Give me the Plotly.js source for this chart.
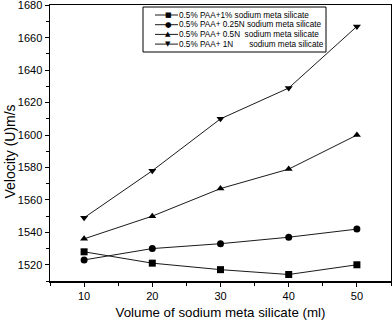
<!DOCTYPE html>
<html>
<head>
<meta charset="utf-8">
<script src="https://cdn.plot.ly/plotly-3.0.1.min.js"></script>
<style>html,body{margin:0;padding:0;background:#fff;}#chart{width:392px;height:321px;}</style>
</head>
<body>
<div id="chart"></div>
<script>
var volume = [10, 20, 30, 40, 50];
var seriesNames = [
  "0.5% PAA+1% sodium meta silicate",
  "0.5% PAA+ 0.25N sodium meta silicate",
  "0.5% PAA+ 0.5N\u00a0 sodium meta silicate",
  "0.5% PAA+ 1N\u00a0\u00a0\u00a0\u00a0\u00a0\u00a0 sodium meta silicate"
];
var pct1 = [1528, 1521, 1517, 1514, 1520];
var n025 = [1523, 1530, 1533, 1537, 1542];
var n05 = [1536, 1550, 1567, 1579, 1600];
var n1 = [1549, 1578, 1610, 1629, 1667];
var xTitle = "Volume of sodium meta silicate (ml)";
var yTitle = "Velocity (U)m/s";

var seriesValues = [pct1, n025, n05, n1];
var symbols = ["square", "circle", "triangle-up", "triangle-down"];
var legendGlyphs = ["\u25A0", "\u25CF", "\u25B2", "\u25BC"];

var traces = seriesValues.map(function (v, i) {
  return {
    x: volume, y: v, name: seriesNames[i],
    type: "scatter", mode: "lines+markers", showlegend: false,
    line: {color: "#1a1a1a", width: 1},
    marker: {symbol: symbols[i], size: 7, color: "#000"}
  };
});

// plot area geometry (px) used to place the hand-built legend
var L = 50, R = 1, T = 5, B = 40, W = 392, H = 321;
var pw = W - L - R, ph = H - T - B;
function px(x) { return (x - L) / pw; }
function py(y) { return (H - B - y) / ph; }

var shapes = [{
  type: "rect", xref: "paper", yref: "paper",
  x0: px(143), x1: px(326), y0: py(52), y1: py(7),
  line: {color: "#000", width: 1}, fillcolor: "#fff", layer: "above"
}];
var annotations = [];
seriesNames.forEach(function (name, i) {
  var yy = 15 + i * 9.7;
  shapes.push({
    type: "line", xref: "paper", yref: "paper",
    x0: px(155), x1: px(178), y0: py(yy), y1: py(yy),
    line: {color: "#1a1a1a", width: 1}, layer: "above"
  });
  annotations.push({
    xref: "paper", yref: "paper", x: px(168), y: py(yy),
    xanchor: "center", yanchor: "middle", showarrow: false,
    text: legendGlyphs[i], font: {family: "DejaVu Sans", size: i === 1 ? 7.5 : 7, color: "#000"}
  });
  annotations.push({
    xref: "paper", yref: "paper", x: px(177), y: py(yy),
    xanchor: "left", yanchor: "middle", showarrow: false,
    text: name, font: {size: 8.2, color: "#000"}
  });
});
annotations.push({
  xref: "paper", yref: "paper", x: px(9.5), y: py(152),
  xanchor: "center", yanchor: "middle", showarrow: false, textangle: -90,
  text: yTitle, font: {size: 14, color: "#000"}
});

var layout = {
  width: W, height: H,
  margin: {l: L, r: R, t: T, b: B},
  paper_bgcolor: "#fff", plot_bgcolor: "#fff",
  font: {family: "Liberation Sans, Arial, sans-serif", color: "#000", size: 11},
  showlegend: false,
  shapes: shapes,
  annotations: annotations,
  xaxis: {
    range: [5, 55], tickvals: [10, 20, 30, 40, 50],
    ticks: "outside", ticklen: 4, tickwidth: 1, tickcolor: "#000",
    minor: {tickvals: [5, 15, 25, 35, 45, 55], ticks: "outside", ticklen: 3, tickcolor: "#000", showgrid: false},
    showline: true, linecolor: "#000", linewidth: 1.5, mirror: true,
    showgrid: false, zeroline: false,
    tickfont: {size: 11},
    title: {text: xTitle, font: {size: 13.3}, standoff: 7}
  },
  yaxis: {
    range: [1510, 1680.2], tickvals: [1520, 1540, 1560, 1580, 1600, 1620, 1640, 1660, 1680],
    ticks: "outside", ticklen: 4, tickwidth: 1, tickcolor: "#000",
    ticklabeloverflow: "allow",
    minor: {tickvals: [1510, 1530, 1550, 1570, 1590, 1610, 1630, 1650, 1670], ticks: "outside", ticklen: 3, tickcolor: "#000", showgrid: false},
    showline: true, linecolor: "#000", linewidth: 1.5, mirror: true,
    showgrid: false, zeroline: false,
    tickfont: {size: 11}
  }
};

Plotly.newPlot("chart", traces, layout, {displayModeBar: false, staticPlot: true});
</script>
</body>
</html>
